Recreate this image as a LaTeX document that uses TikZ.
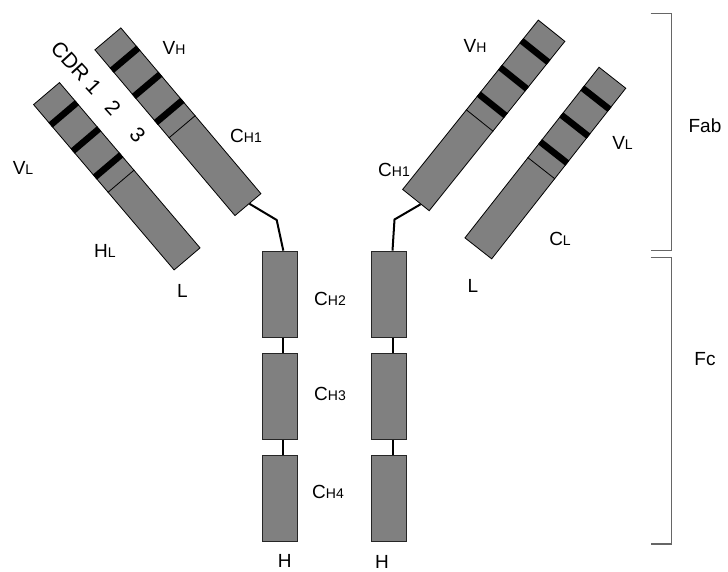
\documentclass[tikz,border=0pt]{standalone}
\usepackage{fontspec}
\setmainfont{Liberation Sans}
\usetikzlibrary{calc}
\definecolor{domgray}{HTML}{808080}
\definecolor{brackgray}{HTML}{666666}
\newcommand\lsub[1]{{\fontsize{14}{14}\selectfont #1}}
\begin{document}
\begin{tikzpicture}[x=1pt,y=-1pt,
  chainbox/.style={draw=black,fill=domgray,line width=0.8pt,inner sep=0pt,
    minimum width=217pt,minimum height=34pt,rectangle},
  vbox/.style={draw=black!85,fill=domgray,line width=0.8pt,inner sep=0pt,
    minimum width=34.6pt,minimum height=86.3pt,rectangle},
  cdrband/.style={line width=6.5pt,black},
  divline/.style={line width=0.8pt,black},
  link/.style={line width=2pt,black},
  brack/.style={draw=brackgray,line width=1.3pt},
  lab/.style={inner sep=0pt,anchor=base,font=\fontsize{19}{21}\selectfont},
  cdrlab/.style={inner sep=0pt,anchor=center,font=\fontsize{21}{23}\selectfont}]
\useasboundingbox (0,0) rectangle (728,572);

% chains
\node[chainbox,rotate=-49.63] (lc) at (116.8,176.25) {};
\node[chainbox,rotate=-49.8] (hc) at (177.9,121.75) {};
\node[chainbox,rotate=-128.7] (rh) at (483.75,115.4) {};
\node[chainbox,rotate=-128.16] (rl) at (545.35,163.05) {};

\foreach \c in {lc,hc,rh,rl}{
  \foreach \f in {0.124,0.281,0.438}{
    \draw[cdrband] ($(\c.north west)!\f!(\c.north east)$) -- ($(\c.south west)!\f!(\c.south east)$);
  }
  \draw[divline] ($(\c.north west)!0.530!(\c.north east)$) -- ($(\c.south west)!0.530!(\c.south east)$);
}

% constant domains of the heavy chains
\node[vbox] (c2L) at (280,294.15) {};
\node[vbox] (c3L) at (280,396.3) {};
\node[vbox] (c4L) at (280,498.5) {};
\node[vbox] (c2R) at (389,294.15) {};
\node[vbox] (c3R) at (389,396.3) {};
\node[vbox] (c4R) at (389,498.5) {};

\draw[link] ([xshift=3.3pt]c2L.south) -- ([xshift=3.3pt]c3L.north);
\draw[link] ([xshift=3.3pt]c3L.south) -- ([xshift=3.3pt]c4L.north);
\draw[link] ([xshift=3.5pt]c2R.south) -- ([xshift=3.5pt]c3R.north);
\draw[link] ([xshift=3.5pt]c3R.south) -- ([xshift=3.5pt]c4R.north);

% hinges
\coordinate (kL) at (276.7,220);
\coordinate (kR) at (394.5,219.5);
\draw[link,line join=miter] ($(hc.north east)!0.45!(hc.south east)$) -- (kL) -- ([xshift=3.3pt]c2L.north);
\draw[link,line join=miter] ($(rh.north east)!0.32!(rh.south east)$) -- (kR) -- ([xshift=3.5pt]c2R.north);

% brackets
\coordinate (fabA) at (650.7,13.3);
\coordinate (fabB) at (671.7,13.3);
\coordinate (fabC) at (671.7,250.7);
\coordinate (fabD) at (650.7,250.7);
\coordinate (fcA) at (650.7,257.3);
\coordinate (fcB) at (671.7,257.3);
\coordinate (fcC) at (671.7,544);
\coordinate (fcD) at (650.7,544);
\draw[brack] (fabA) -- (fabB) -- (fabC) -- (fabD);
\draw[brack] (fcA) -- (fcB) -- (fcC) -- (fcD);

% labels
\node[lab] (lVHl) at (174,55) {V\lsub{H}};
\node[lab] (lVLl) at (23,175) {V\lsub{L}};
\node[lab] (lHL) at (105,258) {H\lsub{L}};
\node[lab] (lLl) at (182.5,297) {L};
\node[lab] (lCH1l) at (246,143) {C\lsub{H1}};
\node[lab] (lCH2) at (330,305) {C\lsub{H2}};
\node[lab] (lCH3) at (330,400) {C\lsub{H3}};
\node[lab] (lCH4) at (328,498) {C\lsub{H4}};
\node[lab] (lHl) at (284.7,567.5) {H};
\node[lab] (lHr) at (382,568) {H};
\node[lab] (lVHr) at (475,53) {V\lsub{H}};
\node[lab] (lCH1r) at (394,177) {C\lsub{H1}};
\node[lab] (lVLr) at (622.5,150) {V\lsub{L}};
\node[lab] (lCL) at (560,245) {C\lsub{L}};
\node[lab] (lLr) at (473,292) {L};
\node[lab] (lFab) at (705,133) {Fab};
\node[lab] (lFc) at (705,365) {Fc};

\node[cdrlab,rotate=-47.4] (cdr) at (98.3,91.6) {CDR 1\hspace{16.9pt}2\hspace{24.9pt}3};
\end{tikzpicture}
\end{document}
